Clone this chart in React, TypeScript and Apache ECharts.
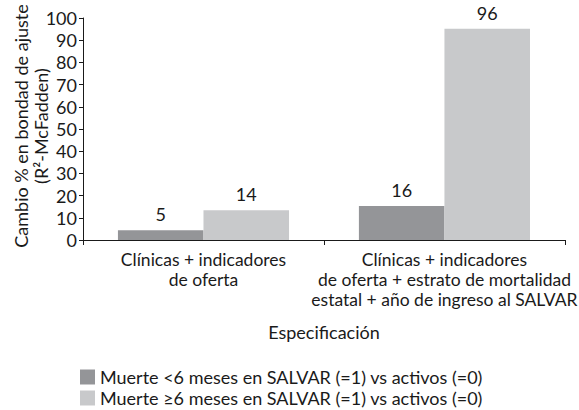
import React, { useEffect, useRef } from "react";
import * as echarts from "echarts";

const categories = [
  "Clínicas + indicadores\nde oferta",
  "Clínicas + indicadores\nde oferta + estrato de mortalidad\nestatal + año de ingreso al SALVAR",
];
const seriesNames = [
  "Muerte <6 meses en SALVAR (=1) vs activos (=0)",
  "Muerte ≥6 meses en SALVAR (=1) vs activos (=0)",
];
const valuesShort = [4.4, 15.3];
const valuesLong = [13.4, 95.2];
const labelsShort = ["5", "16"];
const labelsLong = ["14", "96"];
const colors = ["#949598", "#c8c9cb"];

const FONT = "Lato, 'Open Sans', sans-serif";
const FS = 18;
const INK = "#1a1a1a";

export default function App() {
  const ref = useRef<HTMLDivElement>(null);
  useEffect(() => {
    if (!ref.current) return;
    const chart = echarts.init(ref.current, undefined, { renderer: "svg" });
    const barLabel = (arr: string[]) => ({
      show: true,
      position: "top",
      distance: 7,
      fontSize: FS,
      color: INK,
      fontFamily: FONT,
      formatter: (p: any) => arr[p.dataIndex],
    });
    chart.setOption({
      animation: false,
      textStyle: { fontFamily: FONT, color: INK },
      grid: { left: 83, right: 8, top: 18, bottom: 170, containLabel: false },
      xAxis: {
        type: "category",
        data: categories,
        name: "Especificación",
        nameLocation: "middle",
        nameGap: 83,
        nameTextStyle: { fontSize: FS, color: INK, fontFamily: FONT },
        axisLine: { lineStyle: { color: INK, width: 1 } },
        axisTick: { show: true, length: 5, lineStyle: { color: INK } },
        axisLabel: { fontSize: 17.5, color: INK, lineHeight: 20, margin: 9, interval: 0, fontFamily: FONT },
      },
      yAxis: {
        type: "value",
        min: 0,
        max: 100,
        interval: 10,
        splitLine: { show: false },
        axisLine: { show: true, lineStyle: { color: INK, width: 1 } },
        axisTick: { show: true, length: 4, lineStyle: { color: INK } },
        axisLabel: { fontSize: FS, color: INK, margin: 6, fontFamily: FONT },
      },
      legend: {
        orient: "vertical",
        left: 80,
        top: 368,
        height: 60,
        itemWidth: 15,
        itemHeight: 15,
        itemGap: 3,
        icon: "rect",
        padding: 0,
        textStyle: { fontSize: FS, color: INK, fontFamily: FONT },
        data: seriesNames,
      },
      graphic: [
        {
          type: "text",
          x: 31,
          y: 126,
          rotation: Math.PI / 2,
          style: {
            text: "Cambio % en bondad de ajuste\n(R²-McFadden)",
            fontSize: FS,
            lineHeight: 20,
            fontFamily: FONT,
            fill: INK,
            align: "center",
            verticalAlign: "middle",
          },
        },
      ],
      series: [
        {
          name: seriesNames[0],
          type: "bar",
          data: valuesShort,
          itemStyle: { color: colors[0] },
          barGap: "0%",
          barCategoryGap: "29%",
          label: barLabel(labelsShort),
        },
        {
          name: seriesNames[1],
          type: "bar",
          data: valuesLong,
          itemStyle: { color: colors[1] },
          barGap: "0%",
          barCategoryGap: "29%",
          label: barLabel(labelsLong),
        },
      ],
    });
    return () => chart.dispose();
  }, []);
  return <div ref={ref} style={{ width: 579, height: 410, position: "absolute", left: 0, top: 0 }} />;
}
